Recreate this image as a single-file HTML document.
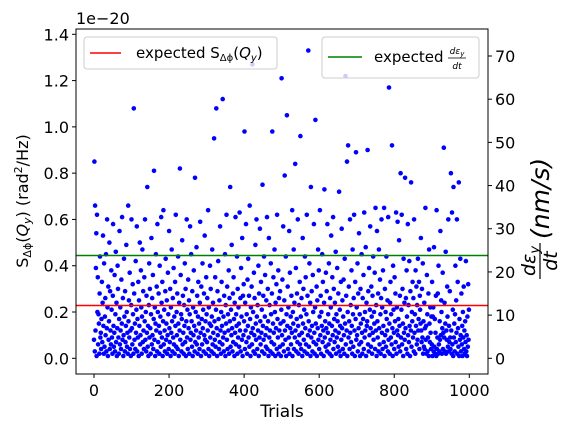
<!DOCTYPE html>
<html><head><meta charset="utf-8"><style>
body{margin:0;background:#fff;}
svg text{font-family:"DejaVu Sans","Liberation Sans",sans-serif;}
</style></head><body>
<svg id="chart" width="576" height="432" viewBox="0 0 576 432" xmlns="http://www.w3.org/2000/svg" style="position:absolute;left:0;top:0">
<rect width="576" height="432" fill="#fff"/>
<g id="pts"></g>
<g id="axes"></g>
</svg>
<script>
// values in units of 1e-22 (i.e. 0.01 e-20), one per trial
const trialValues = [
8,85,3,66,12,39,54,1,62,20, 35,6,19,15,2,28,44,9,11,4, 17,33,7,24,53,14,2,41,5,18, 26,10,45,3,13,60,22,1,31,8, 16,50,4,29,12,6,38,21,9,2,
27,58,14,5,11,36,3,19,46,7, 24,1,13,40,30,9,2,17,55,6, 22,12,4,34,15,61,8,26,1,10, 43,18,3,29,7,14,49,20,5,11, 2,66,16,25,9,37,4,12,1,23,
60,13,6,32,19,2,108,28,8,15, 4,42,11,21,57,3,17,9,33,1, 25,14,50,6,10,38,22,2,18,47, 7,29,12,4,35,16,60,8,20,3, 27,11,74,5,14,1,23,41,9,30,
13,2,19,52,6,26,10,36,4,17, 81,8,22,1,15,45,12,31,3,58, 20,7,28,14,2,40,11,18,5,61, 24,9,33,1,16,64,6,21,12,3, 29,43,8,15,25,2,10,37,19,4,
55,13,7,30,1,22,11,47,16,3, 26,9,39,6,18,2,33,14,62,5, 20,10,28,4,44,15,1,24,12,82, 8,36,19,3,17,51,6,27,11,2, 23,14,41,7,30,1,16,60,9,21,
4,34,13,25,2,19,57,8,11,45, 16,5,29,1,22,10,38,14,3,78, 7,20,12,48,6,27,2,18,33,9, 15,4,24,59,11,1,31,17,6,41, 13,21,3,28,10,53,8,16,2,35,
19,7,26,12,64,4,22,1,15,40, 9,30,14,3,18,47,6,24,11,2, 95,16,8,35,5,21,108,13,1,29, 10,42,17,4,25,7,57,12,2,20, 33,14,6,112,9,18,3,27,11,45,
1,23,15,62,8,31,4,19,12,38, 2,26,16,74,5,21,10,49,13,3, 28,7,35,17,1,24,11,61,6,19, 14,44,2,30,9,22,15,5,63,12, 26,3,39,18,8,52,1,27,10,32,
16,98,4,24,12,58,7,19,2,34, 14,43,9,27,5,66,17,1,22,11, 31,6,127,13,20,3,37,10,26,2, 49,15,8,60,18,4,23,12,40,1, 28,9,56,16,6,33,11,21,3,75,
14,27,8,44,2,18,36,10,5,25, 13,61,4,30,16,1,52,9,23,12, 3,41,19,7,28,98,2,15,35,11, 6,47,20,1,24,13,32,4,62,17, 9,38,2,26,12,5,29,15,1,21,
121,10,34,6,57,16,3,25,79,12, 8,44,1,19,105,14,31,4,22,9, 55,2,37,13,18,6,27,11,64,1, 20,15,47,4,24,9,84,12,39,3, 17,28,7,60,14,2,23,10,33,6,
96,18,4,26,11,1,52,15,30,8, 21,3,44,13,35,6,19,62,2,27, 10,133,16,5,41,12,24,1,74,9, 29,14,3,36,20,7,58,11,2,22, 103,15,6,31,1,25,13,47,8,38,
4,18,64,10,27,2,20,14,45,7, 33,12,1,24,73,9,16,5,37,13, 29,3,58,11,19,6,41,15,2,26, 8,22,53,1,14,35,10,61,4,30, 17,7,24,12,46,2,19,9,39,16,
5,28,11,72,3,21,14,1,33,8, 56,13,25,4,18,34,10,2,43,15, 122,6,27,12,85,1,20,92,9,31, 16,4,60,11,23,7,38,14,2,47, 19,5,26,62,12,1,33,17,89,8,
22,10,41,3,28,13,54,6,19,1, 30,15,7,45,11,2,26,17,36,4, 63,9,20,12,48,1,24,14,16,90, 6,29,3,39,10,21,57,13,5,31, 18,2,27,11,44,8,20,15,37,4,
65,12,23,1,55,16,9,28,3,47, 13,6,34,19,2,26,60,11,22,4, 38,14,7,65,1,30,10,20,5,44, 17,12,25,3,61,8,117,15,2,24, 33,9,19,6,92,13,1,40,21,11,
4,35,16,28,7,63,2,22,12,59, 10,17,5,51,14,27,3,80,9,21, 62,6,30,15,1,43,11,24,8,78, 13,26,4,38,18,2,58,10,23,7, 42,14,1,29,12,76,5,20,16,33,
9,26,3,60,11,19,2,38,14,31, 6,23,8,43,12,17,33,4,27,21, 15,52,12,7,30,9,41,2,16,5, 24,4,13,65,8,14,2,36,19,3, 9,28,1,47,15,7,22,11,4,18,
6,33,1,18,22,3,48,5,17,2, 11,27,1,64,4,9,28,2,40,6, 3,16,8,55,10,25,20,2,13,37, 4,11,91,9,24,3,15,46,2,12, 8,31,18,5,60,3,14,7,29,9,
4,80,12,2,63,6,21,1,74,9, 15,3,19,40,7,25,11,60,2,33, 13,5,76,1,17,8,43,10,3,28, 6,14,1,20,9,31,4,12,2,16, 7,42,3,10,1,18,5,32,8,21
];
const xTicks = [0,200,400,600,800,1000];
const yTicks = [0.0,0.2,0.4,0.6,0.8,1.0,1.2,1.4];
const yTickLabels = ["0.0","0.2","0.4","0.6","0.8","1.0","1.2","1.4"];
const y2Ticks = [0,10,20,30,40,50,60,70];
const expectedS = [0.228];
const expectedRate = [23.8];

const NS="http://www.w3.org/2000/svg";
const L=76,R=488,T=29,B=374;
function xs(v){return 94+v*(469.3-94)/1000;}
function ys(v){return 358.3-v*(358.3-34.3)/1.4;}
function ys2(v){return 358.3-v*(358.3-56)/70;}
function mk(tag,attrs,parent){const e=document.createElementNS(NS,tag);for(const k in attrs)e.setAttribute(k,attrs[k]);parent.appendChild(e);return e;}
const pts=document.getElementById('pts'), ax=document.getElementById('axes');
trialValues.forEach((v,i)=>{
  const c=mk('circle',{cx:xs(i).toFixed(1),cy:ys(v/100).toFixed(1),r:2.3,fill:'#0000ff'},pts);
  
  
});
expectedS.forEach(v=>{
  const l=mk('line',{x1:L,x2:R,y1:ys(v),y2:ys(v),stroke:'#ff0000','stroke-width':1.5},ax);
  
  
});
expectedRate.forEach(v=>{
  const l=mk('line',{x1:L,x2:R,y1:ys2(v),y2:ys2(v),stroke:'#008000','stroke-width':1.5},ax);
  
  
});
mk('rect',{x:L,y:T,width:R-L,height:B-T,fill:'none',stroke:'#000','stroke-width':1},ax);
xTicks.forEach(t=>{
  const x=xs(t);
  mk('line',{x1:x,x2:x,y1:B,y2:B+4,stroke:'#000'},ax);
  const tx=mk('text',{x:x,y:B+22,'font-size':16,'text-anchor':'middle'},ax);tx.textContent=t;
  
  
});
yTicks.forEach((t,i)=>{
  const y=ys(t);
  mk('line',{x1:L-4,x2:L,y1:y,y2:y,stroke:'#000'},ax);
  const tx=mk('text',{x:L-7,y:y+6,'font-size':16,'text-anchor':'end'},ax);tx.textContent=yTickLabels[i];
  
  
});
y2Ticks.forEach(t=>{
  const y=ys2(t);
  mk('line',{x1:R,x2:R+4,y1:y,y2:y,stroke:'#000'},ax);
  const tx=mk('text',{x:R+7,y:y+6,'font-size':16,'text-anchor':'start'},ax);tx.textContent=t;
  
  
});
</script>
<svg style="position:absolute;left:0;top:0" width="576" height="432" xmlns="http://www.w3.org/2000/svg">
<text x="76" y="24" font-size="16">1e−20</text>
<text x="282" y="417" font-size="17" text-anchor="middle">Trials</text>
<text transform="translate(28,201) rotate(-90)" font-size="16" text-anchor="middle">S<tspan font-size="11" dy="3">Δϕ</tspan><tspan dy="-3">(</tspan><tspan font-style="italic">Q</tspan><tspan font-style="italic" font-size="11" dy="3">y</tspan><tspan dy="-3">) (rad</tspan><tspan font-size="11" dy="-6">2</tspan><tspan dy="6">/Hz)</tspan></text>
<g transform="translate(540,201) rotate(-90)">
  <text x="-60" y="-5" font-size="19" font-style="italic" text-anchor="middle">dε<tspan font-size="13" dy="4">y</tspan></text>
  <line x1="-78" x2="-42" y1="0" y2="0" stroke="#000" stroke-width="1.2"/>
  <text x="-60" y="17" font-size="19" font-style="italic" text-anchor="middle">dt</text>
  <text x="-38" y="9" font-size="25" font-style="italic">(nm/s)</text>
</g>
<g>
  <rect x="84" y="37" width="193" height="32" rx="3" fill="#fff" fill-opacity="0.8" stroke="#ccc"/>
  <line x1="90" x2="121" y1="53" y2="53" stroke="#ff0000" stroke-width="1.5"/>
  <text x="136" y="58" font-size="15">expected S<tspan font-size="10" dy="3">Δϕ</tspan><tspan dy="-3">(</tspan><tspan font-style="italic">Q</tspan><tspan font-size="10" font-style="italic" dy="3">y</tspan><tspan dy="-3">)</tspan></text>
</g>
<g>
  <rect x="322" y="37" width="157" height="41" rx="3" fill="#fff" fill-opacity="0.8" stroke="#ccc"/>
  <line x1="328" x2="362" y1="57" y2="57" stroke="#008000" stroke-width="1.5"/>
  <text x="374" y="62" font-size="15">expected</text>
  <text x="457" y="54" font-size="9" font-style="italic" text-anchor="middle">dε<tspan font-size="7" dy="2">y</tspan></text>
  <line x1="448" x2="466" y1="58" y2="58" stroke="#000" stroke-width="0.8"/>
  <text x="457" y="69" font-size="9" font-style="italic" text-anchor="middle">dt</text>
</g>
</svg>
</body></html>
